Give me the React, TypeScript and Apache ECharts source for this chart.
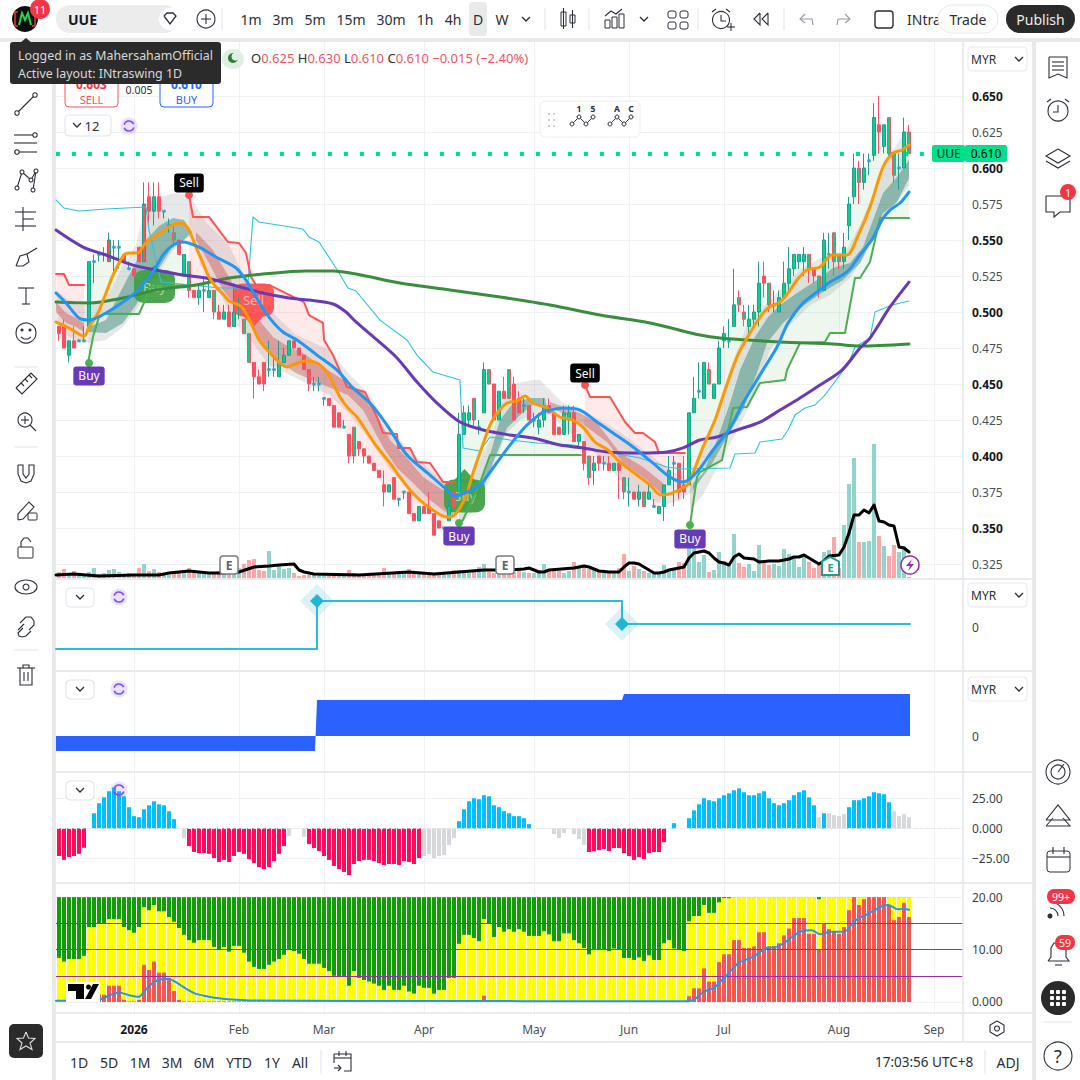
import React, { useEffect, useRef } from "react";
import * as echarts from "echarts";

const FONT = '"Noto Sans"';

const opens = [.49,.49,.47,.48,.48,.48,.49,.535,.54,.54,.535,.545,.545,.54,.53,.53,.545,.535,.58,.57,.58,.57,.56,.555,.55,.525,.535,.515,.51,.515,.51,.515,.5,.495,.5,.49,.5,.495,.485,.465,.455,.465,.46,.46,.455,.465,.47,.48,.475,.47,.46,.45,.45,.44,.44,.435,.43,.42,.415,.42,.41,.405,.4,.395,.39,.38,.375,.385,.37,.375,.375,.36,.355,.365,.365,.36,.355,.35,.355,.375,.375,.415,.425,.44,.42,.43,.46,.45,.425,.445,.46,.45,.44,.435,.435,.425,.42,.425,.435,.43,.42,.415,.425,.43,.41,.41,.4,.39,.4,.395,.395,.39,.395,.385,.375,.375,.37,.375,.37,.365,.36,.365,.38,.395,.395,.38,.38,.43,.445,.44,.46,.44,.45,.48,.48,.49,.51,.5,.49,.495,.5,.525,.52,.505,.5,.51,.52,.53,.535,.535,.54,.53,.525,.515,.54,.555,.54,.535,.56,.58,.6,.59,.605,.61,.63,.615,.635,.61,.6,.6,.625];
const highs = [.49,.495,.48,.49,.48,.49,.535,.54,.54,.545,.555,.55,.55,.54,.535,.53,.545,.59,.59,.59,.59,.57,.565,.56,.55,.54,.535,.515,.52,.525,.525,.515,.505,.505,.505,.52,.51,.495,.485,.465,.46,.465,.48,.47,.48,.475,.48,.48,.475,.47,.46,.455,.455,.44,.44,.435,.43,.425,.415,.42,.41,.405,.4,.395,.39,.39,.38,.385,.37,.375,.375,.36,.365,.365,.375,.36,.355,.35,.37,.375,.43,.435,.435,.44,.425,.465,.46,.45,.445,.455,.46,.455,.445,.44,.435,.43,.43,.44,.44,.43,.42,.435,.435,.435,.415,.41,.4,.4,.4,.4,.4,.395,.395,.385,.385,.375,.38,.375,.38,.37,.365,.38,.4,.4,.395,.4,.43,.455,.465,.465,.465,.45,.48,.49,.495,.53,.515,.505,.505,.505,.535,.535,.52,.515,.515,.535,.545,.54,.54,.545,.54,.53,.525,.555,.555,.555,.54,.555,.58,.61,.605,.61,.61,.645,.65,.63,.635,.61,.61,.635,.63];
const lows = [.48,.475,.465,.475,.48,.48,.49,.52,.535,.535,.535,.525,.53,.535,.53,.525,.535,.535,.56,.56,.565,.565,.555,.545,.54,.525,.51,.51,.505,.5,.51,.495,.495,.495,.49,.49,.495,.485,.465,.44,.45,.445,.455,.455,.455,.465,.47,.475,.47,.46,.445,.445,.445,.435,.435,.42,.42,.42,.395,.395,.4,.395,.395,.39,.385,.365,.375,.37,.365,.37,.36,.355,.355,.36,.36,.345,.35,.35,.355,.365,.375,.415,.42,.42,.415,.43,.45,.425,.425,.44,.44,.425,.43,.43,.425,.42,.415,.42,.43,.415,.415,.415,.415,.41,.405,.39,.38,.38,.39,.39,.39,.39,.37,.37,.365,.37,.365,.365,.37,.365,.36,.355,.38,.365,.37,.37,.38,.43,.44,.44,.45,.44,.45,.475,.475,.49,.5,.49,.485,.49,.49,.51,.5,.5,.5,.51,.515,.525,.53,.525,.52,.52,.51,.515,.53,.525,.53,.53,.55,.575,.575,.585,.595,.605,.61,.61,.61,.59,.585,.6,.61];
const closes = [.485,.475,.48,.475,.48,.48,.535,.535,.54,.54,.55,.545,.545,.535,.53,.525,.535,.575,.57,.58,.57,.57,.56,.55,.54,.54,.515,.51,.515,.515,.515,.5,.495,.5,.49,.5,.5,.485,.465,.455,.45,.45,.46,.46,.465,.47,.48,.475,.47,.46,.45,.45,.45,.44,.435,.42,.42,.42,.4,.4,.405,.4,.395,.39,.385,.375,.38,.37,.37,.375,.36,.355,.365,.36,.36,.345,.35,.35,.365,.365,.415,.43,.43,.425,.42,.46,.45,.425,.445,.44,.44,.425,.43,.435,.425,.425,.425,.435,.43,.415,.415,.43,.43,.41,.415,.395,.385,.395,.395,.395,.39,.395,.39,.375,.375,.37,.375,.365,.375,.365,.365,.38,.39,.395,.375,.375,.43,.44,.445,.465,.45,.45,.475,.485,.48,.505,.505,.495,.495,.5,.52,.52,.505,.505,.51,.52,.53,.54,.54,.54,.53,.525,.515,.55,.54,.535,.535,.545,.575,.6,.59,.6,.605,.635,.625,.63,.61,.595,.6,.625,.61];
const bodyFills = ("RRGRGGGGGG"+"RGGRGRRRRG"+"RGGGRGGRGG"+"GGRGRGGGGR"+"RRGGGGGRRR"+"RGGGRRRGRG"+"RRRRRRGRGG"+"RRGRRRRGGR"+"GGGGGGGRGR"+"GRRGRGGGRR"+"RGGRGRGGRG"+"RGRGGRGGGG"+"GGGGRRGGGG"+"GGGGGGGGGG"+"GRGGGGGGGG"+"GRGGGGGGGG"+"GGGGRGGGGGG").split("");
const volumes = [6,9,5,7,3,4,6,10,4,5,8,9,6,4,5,4,10,14,7,9,6,4,3,6,5,8,10,6,5,4,6,5,7,4,6,10,10,14,18,19,8,7,27,8,12,9,10,5,2,3,3,3,3,3,3,3,4,3,8,5,3,3,4,4,5,10,5,4,5,5,9,6,6,5,4,3,5,6,5,8,8,6,5,6,11,14,6,5,6,4,5,6,8,6,5,5,8,14,7,7,7,5,7,16,11,11,9,8,8,6,6,6,10,24,7,12,9,7,5,4,5,13,8,10,16,15,33,41,16,23,6,8,26,17,13,44,15,11,14,7,33,15,13,14,12,29,24,21,11,24,16,10,13,26,28,41,10,53,94,120,36,36,37,134,42,32,22,33,26,32,1];
const volumeAverage = [[-.6,3],[3,4],[8,2],[15,3],[20,3],[22,5],[26,7],[30,5],[33,5],[36,6],[39,11],[42,12],[44,13],[47,14],[48,8],[49,6],[51,4],[60,3],[70,6],[75,4],[80,6],[85,8],[90,8],[93,9],[94,10],[96,6],[97,6],[98,8],[103,10],[105,12],[106,11],[107,9],[108,7],[110,6],[112,6],[113,11],[114,15],[115,15],[116,14],[117,11],[118,8],[119,5],[120,5],[121,6],[122,8],[124,10],[125,11],[126,20],[127,25],[128,26],[129,27],[130,25],[131,20],[132,16],[133,15],[134,13],[135,21],[136,24],[137,20],[139,19],[140,16],[142,17],[144,17],[145,18],[146,19],[147,21],[148,21],[149,23],[150,20],[151,17],[152,14],[153,17],[154,22],[156,23],[157,31],[158,45],[159,63],[160,63],[161,68],[162,65],[163,73],[164,57],[165,56],[166,53],[167,52],[168,31],[169,30],[170,26]];

const orangeLine = [[-.6,.4931],[2,.4889],[5,.4833],[6,.4896],[7.8,.4993],[9.4,.5132],[11,.5271],[13,.5396],[14,.541],[15.8,.541],[17,.5465],[18,.55],[20,.5542],[22,.559],[24,.5618],[25,.5611],[26,.5569],[27.4,.5451],[28.8,.534],[30,.5243],[31.4,.5174],[32.8,.5125],[34,.5076],[36,.5049],[37,.5014],[38.4,.4924],[40,.4806],[42,.4722],[44.2,.4646],[45.6,.4618],[47.2,.4639],[49.2,.466],[51.6,.4646],[53.6,.4583],[54.8,.4507],[56.2,.441],[57.8,.4333],[59.6,.4271],[61.6,.4167],[63.6,.4063],[66.2,.3951],[68.2,.3854],[70.2,.3764],[72.2,.3694],[74.8,.3625],[77.6,.3576],[78.8,.3583],[80.2,.3639],[81.6,.3743],[82.8,.3882],[84.6,.4063],[86.2,.4215],[87.8,.4306],[89.6,.4368],[91.6,.4382],[93.2,.4417],[94.8,.4368],[97.6,.4333],[100.2,.4271],[102.8,.425],[104.8,.4201],[107.2,.4097],[109.8,.4042],[112.2,.3958],[115.6,.3868],[118.2,.3799],[120.4,.3729],[122.6,.3743],[125.6,.3799],[126.8,.3882],[128.8,.4063],[131.2,.425],[133.2,.4458],[135.6,.4688],[137.6,.4819],[139.8,.4944],[141.8,.5028],[144.2,.5069],[145.8,.5132],[147.6,.5222],[149.6,.5292],[152.2,.5313],[154.6,.5396],[157.6,.5396],[159.6,.5514],[162.2,.5729],[164.8,.6007],[166.8,.6104],[168.6,.6125],[170,.616]];
const blueLine = [[-.6,.5132],[1.4,.5063],[4,.4958],[6,.4944],[9.4,.4993],[12.8,.5069],[15.4,.5139],[18.8,.5278],[20.8,.5396],[22.8,.5465],[24.8,.5486],[28,.5451],[31.4,.5382],[35.4,.5306],[37.4,.5222],[39.4,.5104],[42,.4965],[44.8,.4861],[47.6,.4806],[51.6,.4701],[55.6,.4597],[58.8,.4472],[62.2,.4368],[65.6,.4215],[69.6,.4007],[74.2,.3868],[77.6,.3764],[79.2,.3722],[81.6,.375],[84.2,.3799],[86.8,.3917],[90.2,.4076],[93.6,.4215],[96.8,.4306],[98.2,.4319],[100.8,.4333],[104.2,.4319],[107.6,.4236],[110.8,.416],[114.8,.4063],[118.8,.3951],[122.2,.3854],[124.8,.3819],[127.6,.3889],[130.8,.4042],[134.2,.4194],[136.8,.4368],[140.8,.4597],[143.6,.4757],[145.8,.4924],[148.8,.5063],[151.6,.5139],[154.2,.5208],[157.6,.5278],[160.2,.5396],[162.8,.5514],[164.6,.5639],[166.2,.5708],[168.2,.5757],[170,.5833]];
const purpleLine = [[-.6,.5569],[4.8,.5451],[9.4,.5396],[14.8,.5326],[19.4,.5292],[24.8,.5257],[29.4,.5236],[34.8,.5188],[40.8,.5132],[46,.5097],[50,.5083],[54.8,.5056],[57.4,.5],[59.4,.4931],[63.6,.4806],[67.6,.4681],[71.6,.4514],[75.6,.4368],[80.2,.4236],[84.8,.4181],[90.2,.4146],[94.8,.4125],[100.2,.4076],[104.8,.4056],[109.6,.4028],[116.2,.4021],[121.6,.4028],[124.8,.4056],[128.2,.4111],[131.6,.4132],[135.6,.4181],[140.2,.4236],[144.2,.4319],[148.2,.4403],[152.2,.4493],[156.6,.4597],[160.2,.475],[162.2,.4819],[166.2,.5035],[170,.5208]];
const greenLine = [[-.6,.5069],[6,.5063],[12.8,.5097],[19.4,.5153],[27.4,.5188],[34,.5236],[40.8,.5264],[49.4,.5285],[54.8,.5285],[59.4,.5264],[68.2,.5201],[78.2,.5153],[88.2,.5104],[98.2,.5049],[108.2,.4979],[118.2,.4924],[128.2,.484],[132.2,.4819],[144.2,.4792],[154.8,.4778],[160.2,.4764],[170,.4778]];
const cyanLine = [[-.6,.5778],[1,.5722],[4,.5701],[9.4,.5715],[17.4,.5729],[18,.5569],[20.4,.5208],[32.2,.5167],[37.4,.5167],[37.8,.5201],[38.8,.566],[40,.5625],[48.8,.5576],[50,.5521],[52,.5486],[55.4,.5306],[57.8,.5167],[59.4,.5146],[64.2,.4944],[69.6,.4806],[71.6,.4701],[74.8,.4583],[80.2,.4528],[80.8,.4056],[84.2,.4035],[86.2,.4132],[90.2,.4111],[95.6,.409],[102.8,.4076],[112.8,.4007],[116.2,.3986],[121.6,.3924],[124.8,.391],[134.2,.3917],[135.2,.4014],[139.2,.4021],[140.2,.4097],[144.6,.4118],[145.8,.4181],[147.2,.4285],[149.2,.4333],[151.2,.4354],[153.2,.4424],[156.2,.4563],[158.2,.4667],[159.2,.4757],[162.2,.4819],[163.2,.5],[166.6,.5049],[170,.5076]];

const redStepA = [[-.6,.5264],[1,.5264],[2,.5188],[5,.5188]];
const redStepB = [[26,.5813],[26.8,.566],[30,.566],[33.8,.5486],[36,.5479],[37.4,.541],[38.4,.5243],[39.4,.5188],[42,.5188],[49,.5069],[50,.4979],[52.8,.4924],[53,.4806],[54.8,.4701],[57.6,.4479],[61.2,.4444],[63.6,.4271],[64.8,.416],[67.6,.4153],[67.8,.4056],[70.2,.4056],[71.6,.3958],[74.2,.3951],[75.6,.3882],[76.8,.3819],[79.2,.3819]];
const redStepC = [[105.2,.4493],[106.2,.441],[110.2,.441],[113.2,.4236],[115.2,.416],[116.8,.416],[119.2,.4097],[120,.4021],[125.2,.4021]];
const greenStepA = [[5.8,.4646],[6.8,.4826],[8,.4965],[9,.4986],[16,.4986],[17,.5063],[18,.5174],[25,.5188]];
const greenStepB = [[80,.3535],[80.8,.3556],[84.2,.3813],[86.2,.4007],[104.4,.4007]];
const greenStepC = [[126.2,.3521],[127.6,.3854],[128.2,.3889],[132.6,.3972],[134.8,.4333],[137.6,.434],[140.2,.4507],[145.2,.4528],[145.6,.4597],[148.2,.4785],[153.2,.4792],[154.2,.4854],[157.2,.4854],[159.2,.5236],[160.2,.5236],[162.2,.5347],[164.2,.5653],[170,.5653]];

const ribbonRedA = [[-.6,.5069],[1.4,.4993],[3.4,.4958],[5,.4924],[5,.4861],[3.4,.4896],[1.4,.4924],[-.6,.5]];
const ribbonTealA = [[6,.4896],[9.4,.4944],[12.8,.5174],[15.4,.5347],[17.4,.55],[20,.5597],[22.8,.5653],[25,.5639],[26.6,.5556],[25,.55],[22.8,.5458],[20,.5306],[17.4,.5167],[15.4,.5049],[12.8,.4924],[9.4,.4854],[6,.4861]];
const ribbonRedB = [[27.4,.5556],[30.8,.5431],[34,.5243],[37.4,.5035],[40,.4944],[42.8,.4826],[46,.4757],[48.8,.4715],[52.8,.4618],[56,.4549],[57.8,.4507],[60.8,.4444],[63.6,.4285],[66.2,.4111],[69.6,.3986],[72.8,.3854],[76.8,.3764],[78.8,.3743],[78.8,.359],[77.6,.3604],[74.2,.3694],[70.8,.3813],[67.6,.3917],[64.8,.4063],[60.8,.4319],[57.8,.4424],[51.4,.4514],[47.4,.4576],[43.4,.4667],[40.8,.4757],[38.8,.4896],[35.4,.5035],[32.8,.5153],[30,.534],[27.4,.55]];
const ribbonTealB = [[80.8,.3694],[84.2,.3813],[86.2,.4007],[88.2,.425],[90.8,.4368],[94.2,.4403],[97.2,.4403],[97.6,.434],[94.8,.4354],[92.2,.4285],[89.6,.4194],[86.8,.3951],[84.2,.3715],[80.8,.3625]];
const ribbonRedC = [[98.2,.4375],[104.2,.4299],[107.6,.4229],[112.2,.4021],[116.8,.3924],[120.8,.3813],[120.8,.3729],[117.6,.3833],[112.8,.3951],[109.6,.4097],[104.2,.4236],[98.2,.434]];
const ribbonTealC = [[126.8,.3813],[128.8,.3882],[131.6,.4111],[134.2,.4368],[136.2,.4597],[139.2,.4826],[141.8,.4965],[144.2,.5049],[147.6,.5132],[151.6,.5222],[154.8,.5306],[158.2,.534],[160.8,.5451],[162.8,.5639],[164.8,.5826],[167.6,.5938],[170,.6056],[170,.5931],[167.6,.5764],[164.8,.5688],[162.8,.5521],[160.2,.534],[156.8,.5222],[152.8,.5139],[148.2,.5028],[144.8,.4924],[141.6,.4785],[139.8,.4597],[136.8,.4319],[133.6,.4132],[130.2,.3924],[126.8,.3764]];
const cloudA = [[-.6,.5153],[1.4,.5097],[3.4,.5049],[6,.5049],[9.4,.5083],[12.8,.5326],[15.4,.5465],[17.4,.5757],[20,.5799],[23.4,.5826],[26,.5813],[29.4,.5625],[34,.5465],[37.4,.5222],[42.2,.5014],[47.4,.484],[54.2,.4736],[58.2,.4563],[62.2,.4424],[66.2,.4181],[70.2,.4042],[74.2,.3903],[78.8,.3764],[80,.3521],[74.2,.366],[70.2,.3764],[66.2,.3903],[62.2,.4111],[58.2,.4285],[54.2,.4424],[47.4,.4542],[42,.4632],[38.2,.4806],[34.8,.4944],[31.4,.5188],[28.2,.5326],[27.2,.5535],[25,.55],[22.8,.5431],[20,.5278],[17.4,.5139],[15.4,.5014],[12.8,.4896],[9.4,.4806],[6,.4785],[3.4,.4806],[1.4,.484],[-.6,.491]];
const cloudB = [[80,.3764],[83.2,.3903],[86.2,.4111],[89.2,.4424],[91.6,.4507],[94.8,.4528],[96.2,.4528],[98.2,.4458],[100.8,.4368],[104.2,.4333],[108.2,.425],[112.2,.4167],[118.2,.4007],[122.2,.3903],[125.6,.3833],[127.6,.3778],[124.2,.3694],[121.2,.366],[118.2,.3694],[114.2,.3764],[110.8,.3889],[107.6,.4007],[104.2,.4111],[100.2,.4215],[98.2,.4285],[95.2,.4285],[92.2,.425],[89.2,.4146],[86.2,.3833],[83.2,.3625],[80,.3521]];
const cloudC = [[126.2,.3847],[128.8,.4076],[131.6,.4285],[134.2,.4597],[137.6,.491],[140.2,.5014],[143.2,.5118],[148.2,.5292],[152.2,.5375],[157.6,.5431],[160.2,.5604],[163.2,.5847],[166.2,.609],[170,.6299],[170,.5882],[167.2,.5743],[164.2,.5639],[161.2,.5396],[158.2,.5236],[154.2,.5118],[150.2,.5049],[146.2,.491],[142.2,.4736],[140.2,.4528],[138.2,.4354],[135.2,.4146],[131.6,.3917],[128.8,.3729],[126.2,.3625]];

const tagNames = ["Sell", "Buy", "Buy", "Sell", "Buy"];
const tagIndex = [26, 6, 80, 105.2, 126.2];
const tagPrice = [.5896, .4556, .3444, .4576, .3424];
const dotPrice = [.5813, .4646, .3535, .4493, .3521];
const bigBoxNames = ["Buy", "Sell", "Buy"];
const bigBoxIndex = [19.1, 38.9, 81.1];
const bigBoxPrice = [.5177, .5083, .3722];

const signalLine = [[-.6,-.022],[51.6,-.022],[51.6,.026],[112.6,.026],[112.6,.003],[170.2,.003]];
const signalDiamonds = [[51.6,.026],[112.6,.003]];
const equityArea = [[-.6,-.015],[51.2,-.015],[51.6,.036],[112.6,.036],[113,.042],[170.2,.042]];

const histValues = [-22.8,-26,-23.6,-22.8,-21,-16,null,12.6,20.9,25.8,30.8,34,30.8,26.6,17.6,10.2,9.3,15.9,19.2,22.5,20,19.2,14.3,7.7,null,-8,-14.6,-19.5,-20.3,-20.3,-21,-24.5,-27.7,-26,-27.7,-22.8,-19.5,-21,-25.3,-28.6,-31.9,-33.5,-31.9,-26.9,-21,-14.6,-6.3,null,null,-7.1,-12.9,-16.2,-18.7,-22.8,-26,-31,-33.5,-36,-38.5,-29.4,-26.9,-26,-26,-26.9,-28.6,-30.2,-29.4,-29.4,-30.2,-26.9,-27.7,-29.4,-24.5,-22.8,-21.2,-24.5,-22.8,-22,-13.7,-8,6,15.9,22.5,25,24.2,27.5,26.6,19.2,17.6,14.3,12.6,10.2,10.2,8.5,3.6,null,null,null,null,-4.7,-8,-3.8,null,-4.7,-8.8,-13.7,-19.5,-18.7,-17.9,-17,-18.7,-16.2,-16.2,-20.3,-22.8,-26,-23.6,-25.3,-20.3,-19.5,-19.5,-11.3,null,4.4,null,null,8.5,15,20,25,23.4,22.5,25,27.5,29.1,31.6,33.2,30,27.5,27.5,29.1,30.8,25,20.9,19.2,20.9,23.4,27.5,30,31.6,25.8,19.2,9.3,12.6,12.6,11,10.2,11.8,17.6,23.4,23.4,25,26.6,30,29.1,28.3,21.7,14.3,10.2,11.8,9.3];
const histGreyBars = [25,46,49,73,74,75,76,77,78,79,99,100,101,103,104,105,152,154,155,156,157,167,168,169,170];

const stochYellow = [8.4,7.7,8.2,8.2,8.2,8.8,14.3,14.3,14.9,14.9,15.8,15.8,15.8,14.3,13.7,13.2,14.3,18.1,17.5,18.5,17.3,17.3,16.2,15.3,14.1,12.8,11.8,11.3,11.8,11.8,11.8,10.5,10.1,10.5,9.6,10.7,10.7,9.4,7.7,6.7,6.3,6.3,7.1,7.7,8.2,9,9.9,9.7,9.2,8.2,7.3,7.3,7.3,6.5,5.9,5,4.8,4.8,3.1,5.9,4.6,4.2,3.9,3.5,3.1,2.3,3.1,2.3,2.3,3.1,2,1.6,3.1,2.7,2.7,1.6,2.3,2.3,4.6,4.6,11.1,12.8,12.8,12.2,11.6,15.8,14.9,12.4,14.3,13.4,13.9,13.4,13.9,13.4,12.6,12.6,12.6,13.5,12.9,11.6,11.6,13.1,13.1,11.8,11.2,10.3,9.1,9.9,9.9,9.9,9.7,10.2,10.1,8.4,8.4,8,8.5,7.8,8.9,8,8,11.2,11.8,10.2,9.9,9.7,15.4,16.4,16.4,18.5,17,17,19,19.8,19.8,20,20,20,20,20,20,20,20,20,20,20,20,20,20,20,20,20,19.6,20,20,20,20,20,20,20,20,20,20,20,20,20,20,20,20,20,20];
const stochRed = [0,0,0,0,0,0,0,0,1.4,1.4,3.1,3.1,3.1,.4,.1,.1,.4,7.1,6.1,7.7,5.6,5.6,4.6,2.1,.4,.1,.1,.1,.1,.1,.1,.1,.1,.1,.1,.1,.1,.1,.1,.1,.1,.1,.1,.1,.1,.1,.1,.1,.1,.1,.1,.1,.1,.1,.1,.1,.1,.1,.1,.1,.1,.1,.1,.1,.1,.1,.1,.1,.1,.1,.1,.1,.1,.1,.1,.1,.1,.1,.1,.1,.1,.1,.1,.1,.1,1.2,.1,.1,.1,.1,.1,.1,.1,.1,.1,.1,.1,.1,.1,.1,.1,.1,.1,.1,.1,.1,.1,.1,.1,.1,.1,.1,.1,.1,.1,.1,.1,.1,.1,.1,.1,.1,.1,.1,.1,.1,1.1,2.6,2.6,6.4,3.9,3.9,7.6,9.1,9.1,11.8,11.8,10.3,10.3,10.6,13.3,13.3,10.6,10.6,11.2,12.7,14,16,16,16,13,13,10,15,13.9,13.5,13,14.3,17.5,20,18.5,19.6,20,20,20,20,18.5,15.6,16.2,18.9,16.2];
const stochLine = [[-.6,.25],[7,.25],[8,.4],[9,.8],[10,1.2],[11,1.6],[12,1.8],[13,1.6],[14,1.3],[15,1.1],[16,1],[17,2],[18,3],[19,3.8],[20,4.2],[21,4.4],[22,4.4],[23,4],[24,3.4],[25,2.8],[26,2.2],[27,1.7],[28,1.4],[29,1.2],[30,1],[32,.7],[34,.5],[38,.3],[60,.2],[125.8,.15],[127.5,.8],[129,2],[131,2.7],[132.5,4.1],[134,5.6],[136,7.5],[139,8.7],[141.5,10.3],[143.5,10.5],[145.5,11.6],[148.4,13.5],[150.5,13.7],[152.3,12.9],[154.2,13.4],[157,13.4],[159.2,15.5],[162,16.9],[164.7,18.3],[165.8,18.5],[167.8,17.7],[168.8,17.8],[170,17.6]];
const stochTop = 20;
const stochLevels = [15, 10, 5];

const timeTickIndex = [15, 36, 53, 73, 95, 114, 133, 156, 175];
const timeTickLabels = ["2026", "Feb", "Mar", "Apr", "May", "Jun", "Jul", "Aug", "Sep"];
const priceTicks = [.65,.625,.6,.575,.55,.525,.5,.475,.45,.425,.4,.375,.35,.325];
const histTicks = [25, 0, -25];
const stochTicks = [20, 10, 0];
const lastPrice = 0.61;

function Candles() {
  const upBorder = "#1f9e8f", downBorder = "#f7525f", greenBody = "#08cf8e", redBody = "#f7525f";
  return closes.map((c, i) => {
    const border = c < opens[i] ? downBorder : upBorder;
    const fill = bodyFills[i] === "R" ? redBody : greenBody;
    return {
      value: [i, opens[i], c, lows[i], highs[i]],
      itemStyle: { color: fill, color0: fill, colorDoji: fill, borderColor: border, borderColor0: border, borderColorDoji: border, borderWidth: 1 },
    };
  });
}

const polygon = (pts: number[][], fill: string, z: number, xAxisIndex = 0, yAxisIndex = 0) => ({
  type: "custom", xAxisIndex, yAxisIndex, z, silent: true, clip: false,
  data: [pts[0]], encode: { x: 0, y: 1 },
  renderItem: (_p: any, api: any) => ({ type: "polygon", shape: { points: pts.map((q) => api.coord(q)) }, style: { fill } }),
});
const line = (data: number[][], color: string, width: number, z: number, xAxisIndex = 0, yAxisIndex = 0, smooth: any = false) => ({
  type: "line", xAxisIndex, yAxisIndex, z, data, symbol: "none", silent: true, clip: false, smooth,
  lineStyle: { color, width, cap: "round", join: "round" },
});
const closeEdge = (a: number, b: number) => closes.slice(a, b + 1).map((c, k) => [a + k, c]);
const between = (step: number[][], a: number, b: number) => [...closeEdge(a, b), ...[...step].reverse()];

/* ---------- page chrome ---------- */
const ink = "#2a2e39";
const el: any[] = [];
const Tx = (text: string, x: number, y: number, size = 14, fill = ink, align = "left", weight = "normal", z = 20) =>
  el.push({ type: "text", z, silent: true, style: { text, x, y, font: `${weight} ${size}px ${FONT}`, fill, align, verticalAlign: "middle" } });
const Pl = (points: number[][], stroke = ink, w = 1.1, z = 20) =>
  el.push({ type: "polyline", z, silent: true, shape: { points }, style: { stroke, lineWidth: w, fill: "none" } });
const Ci = (cx: number, cy: number, r: number, stroke: any = ink, fill: any = "none", w = 1.1, z = 20) =>
  el.push({ type: "circle", z, silent: true, shape: { cx, cy, r }, style: { stroke, fill, lineWidth: w } });
const Re = (x: number, y: number, width: number, height: number, r = 0, stroke: any = null, fill: any = "none", w = 1, z = 20) =>
  el.push({ type: "rect", z, silent: true, shape: { x, y, width, height, r }, style: { stroke, fill, lineWidth: w } });
const Po = (points: number[][], fill: string, z = 20) =>
  el.push({ type: "polygon", z, silent: true, shape: { points }, style: { fill } });
const chevron = (x: number, y: number, c = ink) => Pl([[x - 4, y - 2], [x, y + 2], [x + 4, y - 2]], c, 1.3);
const syncIcon = (x: number, y: number) => {
  Ci(x, y, 8.5, null, "rgba(124,77,255,.16)");
  el.push({ type: "arc", z: 20, silent: true, shape: { cx: x, cy: y, r: 5, startAngle: 0.3, endAngle: 2.8 }, style: { stroke: "#7c4dff", lineWidth: 1.6, fill: "none" } });
  el.push({ type: "arc", z: 20, silent: true, shape: { cx: x, cy: y, r: 5, startAngle: 3.4, endAngle: 5.9 }, style: { stroke: "#7c4dff", lineWidth: 1.6, fill: "none" } });
};

function buildChrome() {
  // top bar
  Ci(25, 19, 13, null, "#0c0c0c");
  Pl([[19, 25], [22, 13], [25, 20], [28, 13], [31, 25]], "#1fd655", 2);
  Pl([[18, 12], [15, 12], [15, 26], [18, 26]], "#e53935", 1.5);
  Pl([[32, 12], [35, 12], [35, 26], [32, 26]], "#e53935", 1.5);
  Ci(40, 9, 10, null, "#f23645");
  Tx("11", 40, 9.5, 11, "#fff", "center");
  Re(56, 5, 122, 28, 14, null, "#ececec");
  Tx("UUE", 68, 19, 14, "#131722", "left", "bold");
  Ci(170, 19, 11, null, "#fff");
  Pl([[164, 16], [167, 13], [173, 13], [176, 16], [170, 24], [164, 16]], ink, 1.3);
  Ci(206, 19, 9);
  Pl([[201, 19], [211, 19]]); Pl([[206, 14], [206, 24]]);
  Pl([[222, 8], [222, 30]], "#e0e3eb", 1);
  Re(469, 2, 18, 34, 4, null, "#e9e9e9");
  ([["1m", 251], ["3m", 283], ["5m", 315], ["15m", 351], ["30m", 391], ["1h", 425], ["4h", 453], ["D", 478], ["W", 502]] as [string, number][]).forEach(([t, x]) => Tx(t, x, 19, 14, ink, "center"));
  chevron(526, 19);
  [545, 589, 698, 784].forEach((x) => Pl([[x, 8], [x, 30]], "#e0e3eb", 1));
  Re(561, 12, 5, 14, 0, ink, "none"); Pl([[563.5, 8], [563.5, 29]]);
  Re(570, 15, 5, 8, 0, ink, "none"); Pl([[572.5, 10], [572.5, 28]]);
  Re(605, 20, 5, 8, 0, ink); Re(612, 17, 5, 11, 0, ink); Re(619, 14, 5, 14, 0, ink);
  Pl([[605, 16], [611, 11], [616, 14], [622, 9]]);
  chevron(644, 19);
  [[668, 11], [680, 11], [668, 22], [680, 22]].forEach(([x, y]) => Re(x, y, 8, 7, 2, ink));
  Ci(721, 20, 8.5);
  Pl([[721, 15], [721, 21], [726, 21]]);
  Pl([[712, 12], [716, 9]]); Pl([[730, 12], [726, 9]]);
  Pl([[727, 27], [735, 27]]); Pl([[731, 23], [731, 31]]);
  Pl([[760, 13], [754, 19], [760, 25], [760, 13]]); Pl([[768, 13], [762, 19], [768, 25], [768, 13]]);
  Pl([[805, 14], [800, 19], [805, 23]], "#9598a1"); Pl([[800, 19], [812, 19], [813, 25]], "#9598a1");
  Pl([[845, 14], [850, 19], [845, 23]], "#9598a1"); Pl([[850, 19], [838, 19], [837, 25]], "#9598a1");
  Re(875, 11, 18, 17, 3, ink, "none", 1.4);
  Tx("INtra", 907, 19, 14);
  Re(938, 5, 60, 28, 14, "#e8e8e8", "#fff", 1, 21);
  Tx("Trade", 968, 19, 14, ink, "center", "normal", 22);
  Re(1006, 5, 69, 28, 14, null, "#2a2a2a");
  Tx("Publish", 1040.5, 19, 14, "#eee", "center");

  // tooltip, trade box
  Re(65, 72, 53, 35, 4, "#f7525f", "#fff");
  Tx("0.603", 91.5, 84, 12, "#f23645", "center", "bold");
  Tx("SELL", 91.5, 99, 11, "#f7525f", "center");
  Tx("0.005", 139, 90, 10.5, ink, "center");
  Re(160, 72, 53, 35, 4, "#2962ff", "#fff");
  Tx("0.610", 186.5, 84, 12, "#2962ff", "center", "bold");
  Tx("BUY", 186.5, 99, 11, "#2962ff", "center");
  Po([[20, 43], [26, 38], [32, 43]], "#2b2b2b", 30);
  Re(10, 42, 211, 42, 3, null, "#2b2b2b", 1, 30);
  Tx("Logged in as MahersahamOfficial", 18, 55, 12.4, "#d8d8d8", "left", "normal", 31);
  Tx("Active layout: INtraswing 1D", 18, 73, 12.4, "#d8d8d8", "left", "normal", 31);

  // legend line
  Re(222, 49, 22, 20, 10, null, "#dff0e2");
  Ci(233, 58, 5, null, "#2e7d32");
  Ci(235.5, 56.5, 4, null, "#dff0e2");
  el.push({
    type: "text", z: 20, silent: true,
    style: {
      x: 251, y: 58, verticalAlign: "middle",
      text: "{k|O}{r|0.625} {k|H}{r|0.630} {k|L}{r|0.610} {k|C}{r|0.610} {r|\u22120.015 (\u22122.40%)}",
      font: `13px ${FONT}`,
      rich: { k: { fill: ink, font: `13px ${FONT}` }, r: { fill: "#f7525f", font: `13px ${FONT}` } },
    },
  });
  Re(65, 115, 46, 21, 4, "#e0e3eb", "#fff");
  chevron(77, 125);
  Tx("12", 92, 126, 13, ink, "center");
  syncIcon(129, 126);

  // pattern widget
  Re(540, 101, 100, 36, 5, "#eeeeee", "#fff", 1);
  [[549, 113], [549, 119], [549, 125], [554, 113], [554, 119], [554, 125]].forEach(([x, y]) => Re(x - 1, y, 2, 2, 0, null, "#c9cbd1"));
  [570, 608].forEach((x0, k) => {
    const pts = [[x0 + 2, 124], [x0 + 9, 117], [x0 + 16, 124], [x0 + 23, 117]];
    Pl(pts, ink, 1);
    pts.forEach(([x, y]) => Ci(x, y, 2, ink, "#fff", 1));
    Tx(k ? "A" : "1", x0 + 9, 108, 8.5, ink, "center", "bold");
    Tx(k ? "C" : "5", x0 + 23, 108, 8.5, ink, "center", "bold");
  });

  // pane controls
  [[59], [595], [689]].forEach(([y]) => {
    Re(968, y - 12, 59, 24, 4, "#e8e9ee", "#fff");
    Tx("MYR", 971, y, 12, ink);
    chevron(1019, y, ink);
  });
  [[597], [689], [790]].forEach(([y]) => {
    Re(66, y - 9, 28, 19, 4, "#e0e3eb", "#fff");
    chevron(80, y);
    syncIcon(119, y);
  });

  // pane separators
  [579, 671, 772, 883, 1013].forEach((y) => Pl([[56, y], [1032, y]], "#e3e4ea", 1.5, 5));
  Pl([[963, 42], [963, 1041]], "#e3e4ea", 1.5, 5);

  // price tag
  Re(932, 145, 33, 17, 2, null, "#00e08a", 1, 12);
  Tx("UUE", 948.5, 153, 12, "#0b2b20", "center", "normal", 13);
  Re(965, 145, 42, 17, 2, null, "#00e08a", 1, 12);
  Tx("0.610", 986, 153, 12, "#000", "center", "normal", 13);

  // earnings / event markers
  [[229, 565], [505, 565]].forEach(([x, y]) => {
    Re(x - 9, y - 9, 18, 18, 3, "#787b86", "#fff", 1.5);
    Tx("E", x, y + .5, 12, "#5d606b", "center", "bold");
  });
  Po([[821, 561], [830, 556], [840, 561], [840, 576], [821, 576]], "#1f9e8f");
  Po([[823, 562], [830, 558], [838, 562], [838, 574], [823, 574]], "#fff");
  Tx("E", 830.5, 567, 11, "#1f9e8f", "center", "bold");
  Ci(910, 565, 9, "#9c27b0", "#fff", 1.5);
  Po([[912, 559], [906, 566], [910, 566], [908, 571], [914, 564], [910, 564]], "#9c27b0");

  // watermark
  Re(66, 982, 34, 20, 0, null, "#fff", 1, 12);
  Po([[68, 984], [84, 984], [84, 999], [76, 999], [76, 991], [68, 991]], "#000", 13);
  Po([[93, 984], [99, 984], [91, 999], [85, 999]], "#000", 13);
  Ci(88.5, 987, 2.5, null, "#000", 1, 13);

  // left toolbar
  const c = 26;
  Pl([[18, 112], [34, 96]]); Ci(17, 113, 2.2, ink, "#fff"); Ci(35, 95, 2.2, ink, "#fff");
  [135, 143, 152].forEach((y, k) => { Pl([[14, y], [37, y]]); if (k !== 1) Ci(k ? 17 : 35, y, 2.2, ink, "#fff"); });
  const nodes = [[17, 188], [22, 172], [31, 180], [36, 171], [33, 190]];
  Pl(nodes); nodes.forEach(([x, y]) => Ci(x, y, 2, ink, "#fff"));
  [212, 226].forEach((y) => Pl([[15, y], [36, y]]));
  Pl([[23, 207], [23, 231]]); Pl([[23, 219], [34, 219]]);
  Pl([[16, 266], [20, 256], [27, 254], [29, 262], [23, 266], [16, 266]]); Pl([[27, 254], [37, 248]]);
  Pl([[18, 288], [34, 288]]); Pl([[c, 288], [c, 304]]); Pl([[22, 304], [30, 304]]);
  Ci(c, 333, 10); Ci(22, 330, 1, ink, ink); Ci(30, 330, 1, ink, ink);
  Pl([[21, 337], [24, 339], [28, 339], [31, 337]]);
  [367, 447, 650].forEach((y) => Pl([[14, y], [38, y]], "#e0e3eb", 1));
  Pl([[16, 388], [31, 373], [37, 379], [22, 394], [16, 388]]);
  [[21, 383], [25, 379], [29, 375]].forEach(([x, y]) => Pl([[x, y], [x + 3, y + 3]]));
  Ci(25, 420, 7); Pl([[30, 425], [36, 431]]); Pl([[21, 420], [29, 420]]); Pl([[25, 416], [25, 424]]);
  Pl([[18, 465], [18, 474], [21, 481], [26, 483], [31, 481], [34, 474], [34, 465], [29, 465], [29, 474], [26, 478], [23, 474], [23, 465], [18, 465]]);
  Pl([[18, 520], [18, 514], [29, 502], [34, 507], [23, 519], [18, 520]]); Re(28, 513, 9, 7, 1, ink);
  Re(18, 547, 15, 11, 1, ink); Pl([[21, 547], [21, 542], [24, 538], [28, 538], [31, 542]]);
  el.push({ type: "ellipse", z: 20, silent: true, shape: { cx: c, cy: 587, rx: 11, ry: 7 }, style: { stroke: ink, fill: "none", lineWidth: 1.1 } });
  Ci(c, 587, 3);
  Pl([[18, 630], [24, 624]]); Pl([[20, 623], [26, 617], [31, 617], [34, 621], [34, 625], [29, 630]]); Pl([[23, 628], [18, 633], [19, 636], [22, 637], [26, 636], [31, 631]]);
  Pl([[17, 668], [35, 668]]); Pl([[20, 668], [20, 685], [32, 685], [32, 668]]); Pl([[23, 668], [23, 665], [29, 665], [29, 668]]); Pl([[24, 672], [24, 681]]); Pl([[28, 672], [28, 681]]);
  Re(9, 1024, 34, 34, 5, null, "#2b2b2b");
  Pl([[26, 1032], [28.5, 1038], [35, 1038.5], [30, 1043], [32, 1049.5], [26, 1046], [20, 1049.5], [22, 1043], [17, 1038.5], [23.5, 1038], [26, 1032]], "#ddd");

  // right toolbar
  const rc = 1058;
  Pl([[1049, 57], [1067, 57], [1067, 78], [1058, 74], [1049, 78], [1049, 57]]);
  [62, 66, 70].forEach((y) => Pl([[1052, y], [1064, y]]));
  Ci(rc, 111, 10); Pl([[rc, 105], [rc, 112], [rc - 5, 112]]); Pl([[1047, 102], [1051, 99]]); Pl([[1069, 102], [1065, 99]]);
  Pl([[1058, 149], [1070, 156], [1058, 163], [1046, 156], [1058, 149]]); Pl([[1046, 161], [1058, 168], [1070, 161]]);
  Pl([[1046, 196], [1070, 196], [1070, 212], [1060, 212], [1054, 217], [1054, 212], [1046, 212], [1046, 196]]);
  Ci(1068, 192, 8, null, "#f23645"); Tx("1", 1068, 192.5, 10, "#fff", "center");
  Ci(rc, 772, 12); Ci(rc, 772, 7); Pl([[rc, 772], [rc + 6, 764]]);
  Pl([[1046, 820], [1058, 805], [1070, 820], [1046, 820]]); Pl([[1046, 826], [1070, 826], [1063, 818]]); Pl([[1046, 826], [1053, 818]]);
  Re(1047, 851, 23, 21, 3, ink); Pl([[1047, 857], [1070, 857]]); Pl([[1053, 847], [1053, 854]]); Pl([[1064, 847], [1064, 854]]);
  Ci(1050, 916, 2, ink, ink);
  el.push({ type: "arc", z: 20, silent: true, shape: { cx: 1050, cy: 916, r: 8, startAngle: -1.57, endAngle: 0 }, style: { stroke: ink, lineWidth: 1.1, fill: "none" } });
  el.push({ type: "arc", z: 20, silent: true, shape: { cx: 1050, cy: 916, r: 14, startAngle: -1.57, endAngle: 0 }, style: { stroke: ink, lineWidth: 1.1, fill: "none" } });
  Re(1047, 889, 28, 15, 7, null, "#f23645"); Tx("99+", 1061, 896.5, 10.5, "#fff", "center");
  Pl([[1048, 961], [1051, 957], [1051, 948], [1054, 943], [1062, 943], [1066, 948], [1066, 957], [1069, 961], [1048, 961]]); Pl([[1055, 965], [1062, 965]]);
  Re(1055, 935, 20, 15, 7, null, "#f23645"); Tx("59", 1065, 942.5, 10.5, "#fff", "center");
  Ci(rc, 998, 17, null, "#2a2a2a");
  [[-6, -6], [0, -6], [6, -6], [-6, 0], [0, 0], [6, 0], [-6, 6], [0, 6], [6, 6]].forEach(([a, b]) => Re(rc + a - 2, 998 + b - 2, 4, 4, 1, null, "#fff"));
  Pl([[1044, 1022], [1072, 1022]], "#e0e3eb", 1);
  Ci(rc, 1056, 14); Tx("?", rc, 1056, 18, ink, "center");

  // bottom bar
  ([["1D", 79], ["5D", 109], ["1M", 140], ["3M", 172], ["6M", 204], ["YTD", 239], ["1Y", 272], ["All", 300]] as [string, number][]).forEach(([t, x]) => Tx(t, x, 1062, 14, ink, "center"));
  Pl([[321, 1050], [321, 1074]], "#e0e3eb", 1);
  Pl([[334, 1054], [351, 1054], [351, 1071], [344, 1071]]); Pl([[334, 1054], [334, 1063]]); Pl([[334, 1058], [351, 1058]]);
  Pl([[339, 1051], [339, 1056]]); Pl([[346, 1051], [346, 1056]]); Pl([[334, 1068], [341, 1068]]); Pl([[338, 1065], [341, 1068], [338, 1071]]);
  Tx("17:03:56 UTC+8", 875, 1062, 13.5, ink);
  Pl([[985, 1050], [985, 1074]], "#e0e3eb", 1);
  Tx("ADJ", 1008, 1062, 14, ink, "center");
  Pl([[997, 1021], [1004, 1025], [1004, 1032], [997, 1036], [990, 1032], [990, 1025], [997, 1021]]);
  Ci(997, 1028.5, 2.5);
  return el;
}

/* ---------- options ---------- */
const grids = [
  { left: 56, right: 117, top: 42, height: 536 },
  { left: 56, right: 117, top: 580, height: 90 },
  { left: 56, right: 117, top: 672, height: 99 },
  { left: 56, right: 117, top: 773, height: 109 },
  { left: 56, right: 117, top: 884, height: 129 },
];
const gridColor = "#f0f1f5";
const xAxis = grids.map((_g, k) => ({
  type: "value", gridIndex: k, min: -0.6, max: 180.8,
  axisLine: { show: false },
  axisTick: { show: false, customValues: timeTickIndex },
  splitLine: { show: true, lineStyle: { color: gridColor, width: 1 } },
  axisLabel: k === 4 ? {
    show: true, customValues: timeTickIndex, margin: 10, hideOverlap: false, showMinLabel: true, showMaxLabel: true,
    formatter: (v: number) => { const t = timeTickLabels[timeTickIndex.indexOf(v)] ?? ""; return t === "2026" ? `{b|${t}}` : t; },
    color: "#4a4e59", fontSize: 12, fontFamily: FONT,
    rich: { b: { fontWeight: "bold", color: "#131722", fontSize: 12, fontFamily: FONT } },
  } : { show: false },
}));
const labelBase = { color: "#3b3f4a", fontSize: 12, fontFamily: FONT, margin: 9, showMinLabel: true, showMaxLabel: true };
const rightAxis = (gridIndex: number, min: number, max: number, ticks: number[], fmt: (v: number) => string, split = true) => ({
  type: "value", gridIndex, position: "right", min, max,
  axisLine: { show: false }, axisTick: { show: false, customValues: ticks },
  splitLine: { show: split, lineStyle: { color: gridColor, width: 1 } },
  axisLabel: { ...labelBase, customValues: ticks, formatter: fmt,
    rich: { b: { fontWeight: "bold", color: "#131722", fontSize: 12, fontFamily: FONT }, n: { color: "#4a4e59", fontSize: 12, fontFamily: FONT } } },
});
const yAxis = [
  rightAxis(0, 0.3153, 0.6875, priceTicks, (v) => {
    const k = Math.round((0.65 - v) / 0.025);
    return k % 2 === 0 ? `{b|${v.toFixed(3)}}` : `{n|${v.toFixed(3)}}`;
  }),
  rightAxis(1, -0.043, 0.047, [0], () => "0", false),
  rightAxis(2, -0.035, 0.064, [0], () => "0", false),
  rightAxis(3, -44.3, 45.9, histTicks, (v) => (v === 0 ? "0.000" : v < 0 ? `\u2212${Math.abs(v).toFixed(2)}` : v.toFixed(2))),
  rightAxis(4, -2.1, 22.5, stochTicks, (v) => (v === 0 ? "0.000" : v.toFixed(2))),
  { type: "value", gridIndex: 0, min: 0, max: 536, show: false, splitLine: { show: false } },
];

const series: any[] = [
  // volume
  { type: "bar", xAxisIndex: 0, yAxisIndex: 5, z: 1, barWidth: 4, silent: true,
    data: volumes.map((v, i) => ({ value: [i, v], itemStyle: { color: closes[i] < opens[i] ? "#f9a8a8" : "#90d4cb" } })) },
  // clouds and fills
  polygon(between(redStepA, 0, 5), "rgba(255,82,82,.12)", 1),
  polygon(between(redStepB, 26, 79), "rgba(255,82,82,.12)", 1),
  polygon(between(redStepC, 105, 125), "rgba(255,82,82,.12)", 1),
  polygon(between(greenStepA, 6, 25), "rgba(76,175,80,.1)", 1),
  polygon(between(greenStepB, 80, 104), "rgba(76,175,80,.1)", 1),
  polygon(between(greenStepC, 126, 170), "rgba(76,175,80,.1)", 1),
  polygon(cloudA, "rgba(110,115,120,.16)", 1.5),
  polygon(cloudB, "rgba(110,115,120,.16)", 1.5),
  polygon(cloudC, "rgba(110,115,120,.16)", 1.5),
  polygon(ribbonRedA, "rgba(183,28,28,.3)", 1.6),
  polygon(ribbonRedB, "rgba(183,28,28,.3)", 1.6),
  polygon(ribbonRedC, "rgba(183,28,28,.3)", 1.6),
  polygon(ribbonTealA, "rgba(0,105,92,.36)", 1.6),
  polygon(ribbonTealB, "rgba(0,105,92,.36)", 1.6),
  polygon(ribbonTealC, "rgba(0,105,92,.36)", 1.6),
  { type: "scatter", xAxisIndex: 0, yAxisIndex: 0, z: 1.8, silent: true, symbol: "roundRect", symbolSize: [41, 33],
    data: bigBoxNames.map((n, k) => ({ name: n, value: [bigBoxIndex[k], bigBoxPrice[k]], itemStyle: { opacity: 0.95, color: n === "Buy" ? "#43a047" : "#ff5252" } })),
    label: { show: true, position: "inside", color: "rgba(255,255,255,.6)", fontSize: 13, fontFamily: FONT, formatter: (p: any) => p.name } },
  { type: "scatter", xAxisIndex: 0, yAxisIndex: 0, z: 1.7, silent: true, symbol: "triangle", symbolSize: [26, 14],
    data: [{ value: [bigBoxIndex[0], .5278], itemStyle: { opacity: 0.95, color: "#43a047" } }, { value: [bigBoxIndex[2], .3861], itemStyle: { opacity: 0.95, color: "#43a047" } }] },
  { type: "scatter", xAxisIndex: 0, yAxisIndex: 0, z: 1.7, silent: true, symbol: "triangle", symbolRotate: 180, symbolSize: [26, 14],
    data: [{ value: [bigBoxIndex[1], .4944], itemStyle: { opacity: 0.95, color: "#ff5252" } }] },
  // candles
  { type: "candlestick", xAxisIndex: 0, yAxisIndex: 0, z: 3, barWidth: 3, silent: true, data: Candles(),
    markLine: { silent: true, symbol: "none", z: 2, label: { show: false }, data: [{ yAxis: lastPrice }],
      lineStyle: { color: "#00e08a", type: [4, 12], width: 4 } } },
  { type: "scatter", xAxisIndex: 0, yAxisIndex: 0, z: 3.5, silent: true, symbol: "rect", symbolSize: [3, 3],
    itemStyle: { color: "#3aa0c9", opacity: 1 },
    data: closes.map((c, i) => (c === opens[i] ? [i, c] : null)).filter(Boolean) },
  // lines
  line(cyanLine, "#2bc4da", 1.1, 4),
  line(redStepA, "#ff5252", 2, 4), line(redStepB, "#ff5252", 2, 4), line(redStepC, "#ff5252", 2, 4),
  line(greenStepA, "#4caf50", 2, 4), line(greenStepB, "#4caf50", 2, 4), line(greenStepC, "#4caf50", 2, 4),
  line(greenLine, "#388e3c", 3, 4.1, 0, 0, 0.3),
  line(purpleLine, "#673ab7", 3, 4.2, 0, 0, 0.3),
  line(orangeLine, "#ff9800", 3, 4.3, 0, 0, 0.3),
  line(blueLine, "#2196f3", 3, 4.4, 0, 0, 0.3),
  line(volumeAverage, "#000000", 3, 4.5, 0, 5),
  // tags
  { type: "scatter", xAxisIndex: 0, yAxisIndex: 0, z: 6, silent: true, symbolSize: 8,
    data: tagNames.map((n, k) => ({ value: [tagIndex[k], dotPrice[k]], itemStyle: { opacity: 1, color: n === "Buy" ? "#4caf50" : "#ff5252" } })) },
  { type: "scatter", xAxisIndex: 0, yAxisIndex: 0, z: 7, silent: true, symbolSize: 1, itemStyle: { opacity: 1 },
    data: tagNames.map((n, k) => ({ name: n, value: [tagIndex[k], tagPrice[k]],
      itemStyle: { opacity: 1, color: "transparent" },
      label: { show: true, position: "inside", formatter: n, color: "#fff", opacity: 1, fontSize: 12, fontFamily: FONT, padding: [4, 5, 3, 5], borderRadius: 3, backgroundColor: n === "Buy" ? "#673ab7" : "#000" } })) },
  // signal pane
  { type: "scatter", xAxisIndex: 1, yAxisIndex: 1, z: 2, silent: true, symbol: "diamond", symbolSize: 34, itemStyle: { color: "rgba(41,182,216,.17)", opacity: 1 }, data: signalDiamonds },
  line(signalLine, "#2bbcd8", 2, 3, 1, 1),
  { type: "scatter", xAxisIndex: 1, yAxisIndex: 1, z: 4, silent: true, symbol: "diamond", symbolSize: 14, itemStyle: { color: "#22b6d6", opacity: 1 }, data: signalDiamonds },
  // equity pane
  { type: "line", xAxisIndex: 2, yAxisIndex: 2, z: 3, silent: true, symbol: "none", data: equityArea,
    lineStyle: { width: 0 }, areaStyle: { color: "#2962ff", opacity: 1 } },
  // histogram
  { type: "bar", xAxisIndex: 3, yAxisIndex: 3, z: 3, barWidth: 4, silent: true,
    data: histValues.map((v, i) => (v === null ? null : { value: [i, v], itemStyle: { color: histGreyBars.includes(i) ? "#d6d8dc" : v > 0 ? "#00bfff" : "#ff0a5f" } })).filter(Boolean),
    markLine: { silent: true, symbol: "none", label: { show: false }, data: [{ yAxis: 0 }], lineStyle: { color: "#e6e7eb", type: [3, 3], width: 1 } } },
  // stacked oscillator
  { type: "bar", xAxisIndex: 4, yAxisIndex: 4, z: 3, barWidth: 4, barGap: "-100%", silent: true, itemStyle: { color: "#149c08" }, data: closes.map((_c, i) => [i, stochTop]) },
  { type: "bar", xAxisIndex: 4, yAxisIndex: 4, z: 3, barWidth: 4, barGap: "-100%", silent: true, itemStyle: { color: "#ffff00" }, data: stochYellow.map((v, i) => [i, v]) },
  { type: "bar", xAxisIndex: 4, yAxisIndex: 4, z: 3, barWidth: 4, barGap: "-100%", silent: true, itemStyle: { color: "#f4574f" }, data: stochRed.map((v, i) => [i, v]),
    markLine: { silent: true, symbol: "none", z: 4, label: { show: false }, data: stochLevels.map((v) => ({ yAxis: v })), lineStyle: { color: "#9c27b0", type: "solid", width: 1 } } },
  line(stochLine, "#2196f3", 2, 5, 4, 4, 0.3),
];

export default function App() {
  const ref = useRef<HTMLDivElement>(null);
  useEffect(() => {
    const chart = echarts.init(ref.current as HTMLDivElement, undefined, { renderer: "svg" });
    el.length = 0;
    chart.setOption({
      animation: false,
      textStyle: { fontFamily: FONT },
      grid: grids, xAxis, yAxis, series,
      graphic: { elements: buildChrome() },
    });
    return () => chart.dispose();
  }, []);
  const panel = (left: number, top: number, width: number, height: number) => (
    <div style={{ position: "absolute", left, top, width, height, background: "#fff" }} />
  );
  return (
    <div style={{ position: "fixed", left: 0, top: 0, width: 1080, height: 1080, background: "#e9e9e9", overflow: "hidden" }}>
      {panel(0, 0, 1080, 38)}
      {panel(0, 42, 52, 1038)}
      {panel(56, 42, 976, 999)}
      {panel(56, 1043, 976, 37)}
      {panel(1036, 42, 44, 1038)}
      <div ref={ref} style={{ position: "absolute", left: 0, top: 0, width: 1080, height: 1080 }} />
    </div>
  );
}
